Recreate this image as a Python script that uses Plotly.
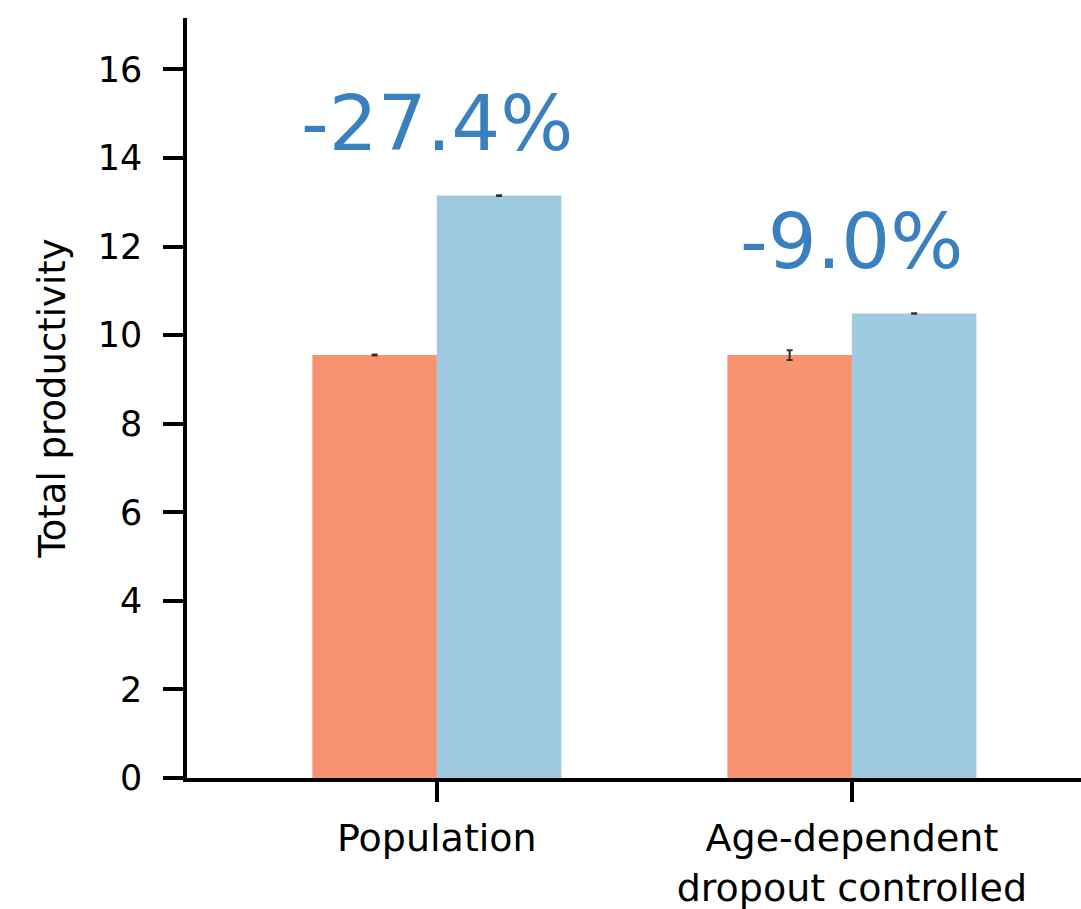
import plotly.graph_objects as go

# Data
categories = ["Population", "Age-dependent<br>dropout controlled"]
observed = [9.55, 9.55]          # first series (salmon)
expected = [13.15, 10.49]        # second series (light blue)
observed_err = [0.01, 0.11]
expected_err = [0.01, 0.005]
change_labels = ["-27.4%", "-9.0%"]

FONT = "DejaVu Sans"
x_pos = list(range(len(categories)))

fig = go.Figure()
fig.add_trace(go.Bar(
    x=x_pos, y=observed, marker_color="#f7946f", marker_line_width=0,
    error_y=dict(type="data", array=observed_err, color="#333333", thickness=2, width=3),
    showlegend=False,
))
fig.add_trace(go.Bar(
    x=x_pos, y=expected, marker_color="#9fc9de", marker_line_width=0,
    error_y=dict(type="data", array=expected_err, color="#333333", thickness=2, width=3),
    showlegend=False,
))

for xi, top, txt in zip(x_pos, expected, change_labels):
    fig.add_annotation(
        x=xi, y=top + 1.62, text=txt, showarrow=False,
        xanchor="center", yanchor="middle",
        font=dict(family=FONT, size=77, color="#3a80bf"),
    )

fig.update_layout(
    width=1081, height=909,
    margin=dict(l=187, r=0, t=18, b=131),
    paper_bgcolor="white", plot_bgcolor="white",
    barmode="group", bargap=0.4, bargroupgap=0,
    font=dict(family=FONT, size=36, color="black"),
)
fig.update_xaxes(
    range=[-0.602, 1.552], tickvals=x_pos, ticktext=categories,
    showline=True, linecolor="black", linewidth=3.5,
    ticks="outside", ticklen=20, tickwidth=3.5, tickcolor="black",
    showgrid=False, zeroline=False, tickfont=dict(size=38),
    ticklabelstandoff=4,
)
fig.update_yaxes(
    range=[0, 17.16], tickvals=list(range(0, 17, 2)),
    showline=True, linecolor="black", linewidth=3.5,
    ticks="outside", ticklen=20, tickwidth=3.5, tickcolor="black",
    showgrid=False, zeroline=False, tickfont=dict(size=35),
    title=dict(text="Total productivity", font=dict(size=37), standoff=22),
    ticklabelstandoff=14,
)

fig.write_html("out.html")
